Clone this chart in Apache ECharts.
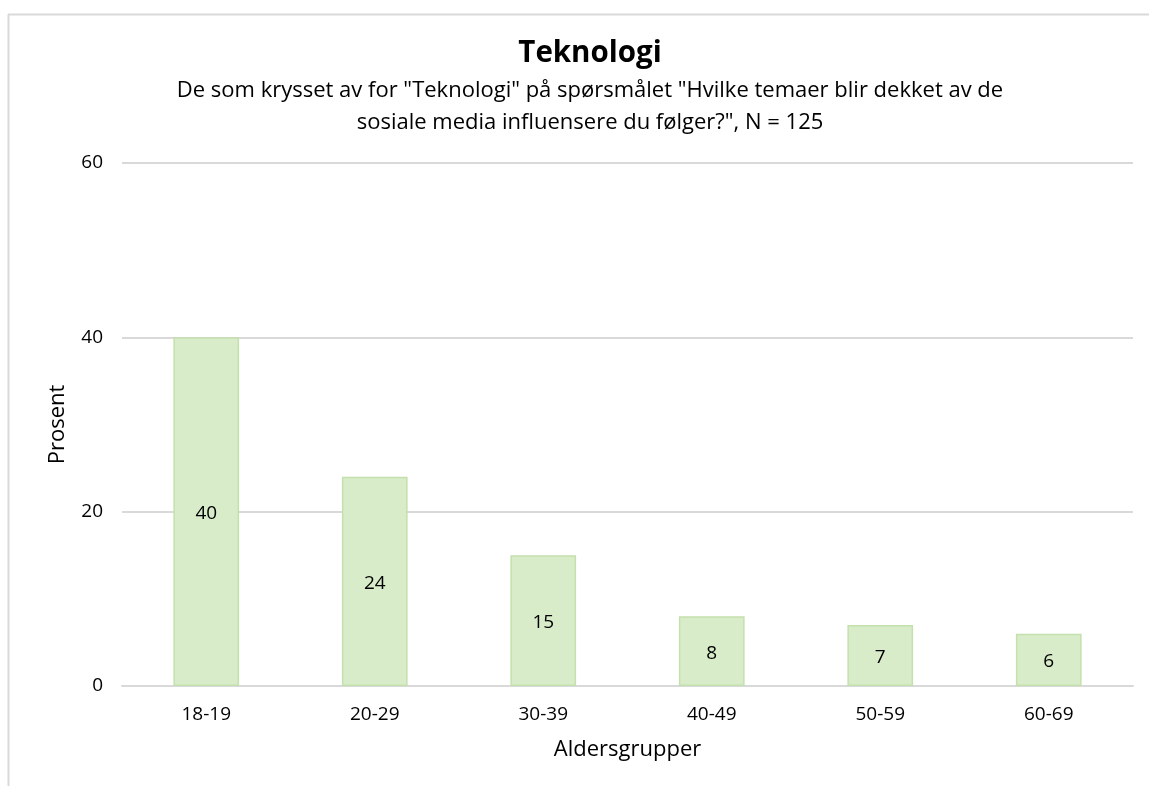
<!DOCTYPE html>
<html><head><meta charset="utf-8">
<script src="https://cdn.jsdelivr.net/npm/echarts@6/dist/echarts.min.js"></script>
<style>html,body{margin:0;padding:0;background:#fff}#c{width:1149px;height:786px}</style>
</head><body><div id="c"></div>
<script>
const categories = ["18-19","20-29","30-39","40-49","50-59","60-69"];
const values = [40,24,15,8,7,6];
const titleText = "Teknologi";
const subtitleText = "De som krysset av for \"Teknologi\" på spørsmålet \"Hvilke temaer blir dekket av de\nsosiale media influensere du følger?\", N = 125";
const xName = "Aldersgrupper";
const yName = "Prosent";
const font = "'Open Sans', 'Noto Sans', sans-serif";
const chart = echarts.init(document.getElementById('c'), null, {renderer:'canvas'});
chart.setOption({
  animation:false,
  backgroundColor:'#fff',
  textStyle:{fontFamily:font},
  title:[{
    text:titleText, left:585, top:34, textAlign:'center',
    textStyle:{fontSize:29.5, fontWeight:'bold', color:'#000', fontFamily:font}
  },{
    text:subtitleText, left:585, top:70, textAlign:'center',
    textStyle:{fontSize:22, fontWeight:'normal', color:'#000', lineHeight:32, fontFamily:font}
  }],
  graphic:[
    {type:'line', shape:{x1:8,y1:14.5,x2:1149,y2:14.5}, style:{stroke:'#d9d9d9', lineWidth:2}},
    {type:'line', shape:{x1:8.5,y1:14,x2:8.5,y2:786}, style:{stroke:'#d9d9d9', lineWidth:2}}
  ],
  grid:{left:122, right:16, top:163, bottom:100, containLabel:false},
  xAxis:{
    type:'category', data:categories,
    name:xName, nameLocation:'middle', nameGap:53,
    nameTextStyle:{fontSize:22, color:'#000', fontFamily:font},
    axisLine:{lineStyle:{color:'#d9d9d9', width:2}},
    axisTick:{show:false},
    axisLabel:{fontSize:19, color:'#000', margin:19, fontFamily:font}
  },
  yAxis:{
    type:'value', min:0, max:60, interval:20,
    name:yName, nameLocation:'middle', nameGap:53, nameRotate:90,
    nameTextStyle:{fontSize:22, color:'#000', fontFamily:font},
    axisLine:{show:false}, axisTick:{show:false},
    axisLabel:{fontSize:19, color:'#000', margin:19, fontFamily:font},
    splitLine:{lineStyle:{color:'#d9d9d9', width:2}}
  },
  series:[{
    type:'bar', data:values, barWidth:'39%',
    itemStyle:{color:'#d9ecca', borderColor:'#c3e0ad', borderWidth:1.5},
    label:{show:true, position:'inside', fontSize:19, color:'#000', fontFamily:font, offset:[0,2]}
  }]
});
</script></body></html>
